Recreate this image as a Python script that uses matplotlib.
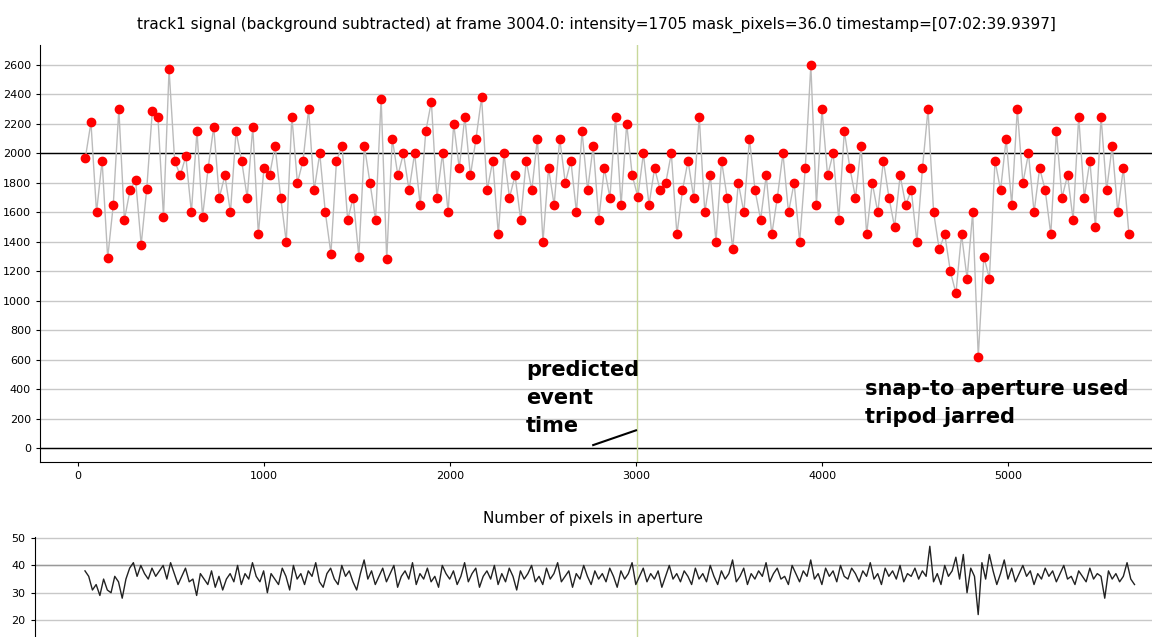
import numpy as np
import matplotlib
matplotlib.use("Agg")
import matplotlib.pyplot as plt

start_frame = 40
frame_step = 30
intensity = [
1970,2210,1600,1950,1290,1650,2300,1550,1750,1820,
1380,1760,2290,2250,1570,2570,1950,1850,1980,1600,
2150,1570,1900,2180,1700,1850,1600,2150,1950,1700,
2180,1450,1900,1850,2050,1700,1400,2250,1800,1950,
2300,1750,2000,1600,1320,1950,2050,1550,1700,1300,
2050,1800,1550,2370,1280,2100,1850,2000,1750,2000,
1650,2150,2350,1700,2000,1600,2200,1900,2250,1850,
2100,2380,1750,1950,1450,2000,1700,1850,1550,1950,
1750,2100,1400,1900,1650,2100,1800,1950,1600,2150,
1750,2050,1550,1900,1700,2250,1650,2200,1850,1705,
2000,1650,1900,1750,1800,2000,1450,1750,1950,1700,
2250,1600,1850,1400,1950,1700,1350,1800,1600,2100,
1750,1550,1850,1450,1700,2000,1600,1800,1400,1900,
2600,1650,2300,1850,2000,1550,2150,1900,1700,2050,
1450,1800,1600,1950,1700,1500,1850,1650,1750,1400,
1900,2300,1600,1350,1450,1200,1050,1450,1150,1600,
620,1300,1150,1950,1750,2100,1650,2300,1800,2000,
1600,1900,1750,1450,2150,1700,1850,1550,2250,1700,
1950,1500,2250,1750,2050,1600,1900,1450]

pix_step = 20
pixels = [
38,36,31,33,29,35,31,30,36,34,28,35,39,41,36,40,37,35,39,36,
38,40,35,41,37,33,36,39,34,35,29,37,35,33,38,32,36,31,35,37,
34,40,33,37,35,41,36,34,38,30,37,35,33,39,36,31,40,35,37,33,
38,36,41,34,32,37,39,35,33,40,36,38,34,31,37,42,35,38,33,36,
39,34,37,40,32,36,38,35,41,33,37,35,39,34,36,32,40,37,35,38,
33,36,41,34,37,39,32,36,38,35,40,33,37,34,39,36,31,38,35,37,
40,34,36,33,39,35,37,41,34,36,38,32,37,35,40,36,33,38,35,37,
34,39,36,32,38,35,37,41,33,36,39,34,37,35,38,32,36,40,35,37,
34,38,36,33,39,35,37,34,40,36,33,38,35,37,42,34,36,39,33,37,
35,38,36,41,34,37,39,35,36,33,40,37,34,38,36,42,35,37,33,39,
36,38,34,40,36,35,39,37,34,38,36,41,35,37,33,39,36,38,35,40,
34,37,36,39,35,38,36,47,34,37,33,40,36,38,43,35,44,30,39,36,
22,41,35,44,38,33,37,42,35,39,34,37,40,36,38,33,37,35,39,36,
38,34,37,40,35,36,33,38,36,34,39,35,37,36,28,38,35,37,34,36,
41,35,33]

event_frame = 3004

f_int = start_frame + frame_step*np.arange(len(intensity))
f_pix = start_frame + pix_step*np.arange(len(pixels))

fig = plt.figure(figsize=(11.52, 6.37), dpi=100)
ax = fig.add_axes([0.0347, 0.2747, 0.9653, 0.6547])
ax.set_xlim(-204, 5774)
ax.set_ylim(-95, 2736)
ax.set_yticks(range(0, 2601, 200))
ax.set_xticks(range(0, 5001, 1000))
ax.tick_params(labelsize=8, length=3)
ax.grid(axis='y', color='#c8c8c8', lw=1)
ax.set_axisbelow(True)
for s in ['top', 'right']:
    ax.spines[s].set_visible(False)
ax.axhline(2000, color='black', lw=1)
ax.axhline(0, color='black', lw=1)
ax.axvline(event_frame, color='#c8d89a', lw=1)
ax.plot(f_int, intensity, color='#bbbbbb', lw=1, zorder=2)
ax.plot(f_int, intensity, 'o', color='#ff0000', ms=6, zorder=3)
ax.set_title("track1 signal (background subtracted) at frame 3004.0: intensity=1705 mask_pixels=36.0 timestamp=[07:02:39.9397]",
             fontsize=11, pad=12)
ax.text(2410, 600, "predicted\nevent\ntime", fontsize=15, fontweight='bold', va='top', linespacing=1.5)
ax.plot([2770, 3000], [20, 120], color='black', lw=1.5)
ax.text(4230, 470, "snap-to aperture used\ntripod jarred", fontsize=15, fontweight='bold', va='top', linespacing=1.5)

ax2 = fig.add_axes([0.03, 0.0, 0.97, 0.157])
ax2.set_xlim(-231, 5774)
ax2.set_ylim(13.8, 50.4)
ax2.set_yticks([20, 30, 40, 50])
ax2.set_xticks([])
ax2.tick_params(labelsize=8, length=3)
ax2.grid(axis='y', color='#c8c8c8', lw=1)
for s in ['top', 'right', 'bottom']:
    ax2.spines[s].set_visible(False)
ax2.axhline(40, color='#999999', lw=1)
ax2.axvline(event_frame, color='#c8d89a', lw=1)
ax2.plot(f_pix, pixels, color='#222222', lw=1)
ax2.set_title("Number of pixels in aperture", fontsize=11, pad=10)

fig.savefig("out.png", dpi=100)
